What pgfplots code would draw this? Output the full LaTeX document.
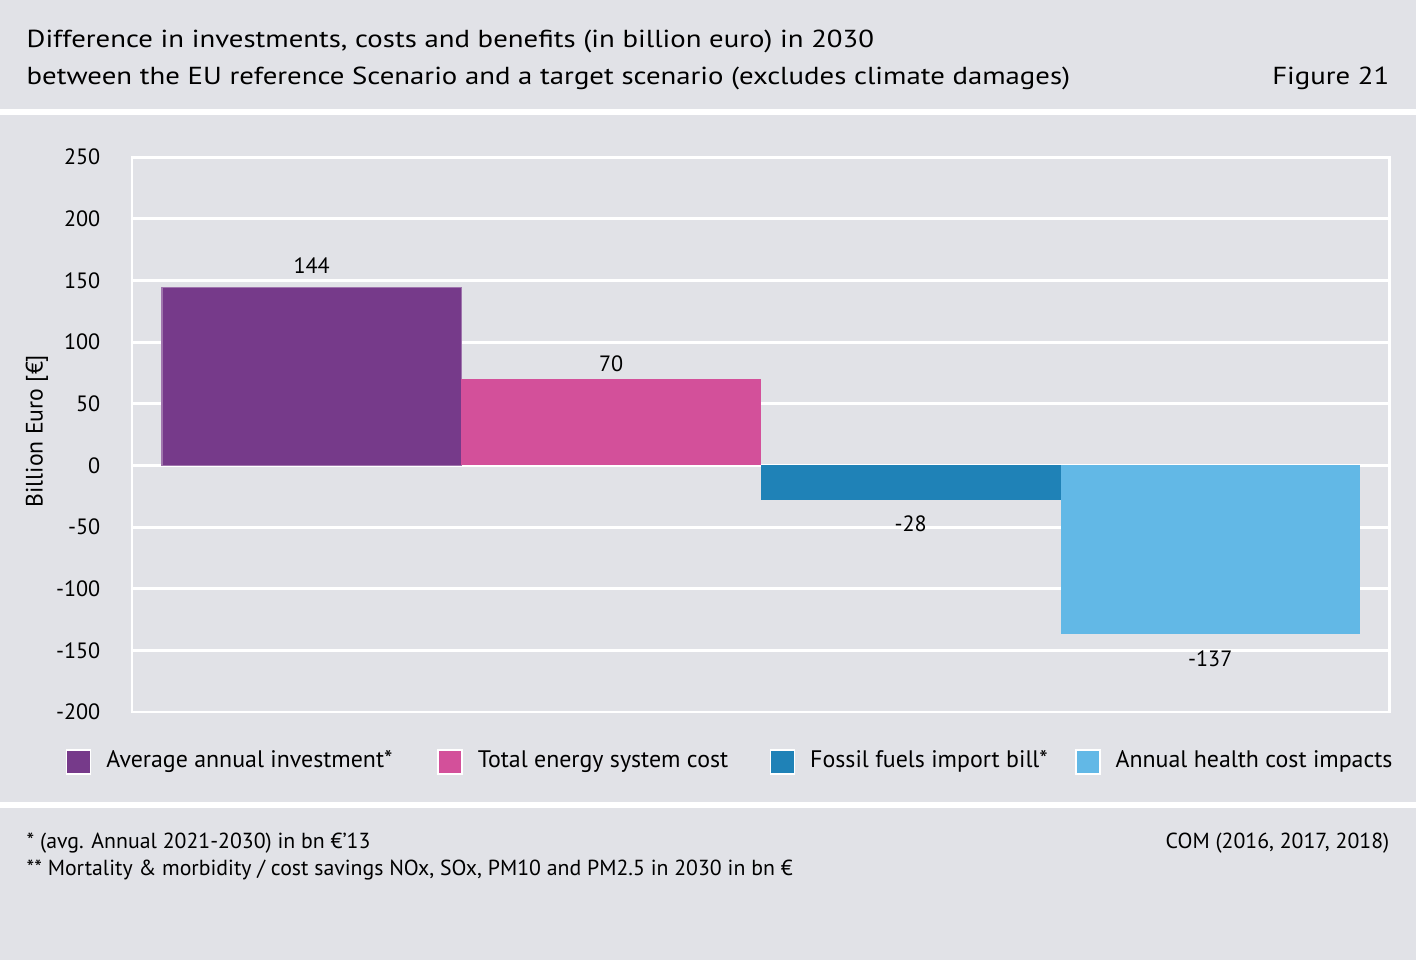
\documentclass[border=0pt]{standalone}
\usepackage{pgfplots}
\pgfplotsset{compat=1.18}
\usepackage{fontspec}
\setmainfont{PT Sans}
\newfontfamily\wide{PT Sans}[FakeStretch=1.17]
\definecolor{bg}{HTML}{E1E2E7}
\definecolor{cA}{HTML}{763A8A}
\definecolor{cB}{HTML}{D3509A}
\definecolor{cC}{HTML}{1F82B7}
\definecolor{cD}{HTML}{62B8E6}
\newcommand{\fsT}{\wide\fontsize{7pt}{8pt}\selectfont}
\newcommand{\fsL}{\fontsize{6.8pt}{8pt}\selectfont}
\newcommand{\fsK}{\fontsize{6.3pt}{7pt}\selectfont}
\newcommand{\fsY}{\fontsize{6.75pt}{7pt}\selectfont}
\newcommand{\fsF}{\fontsize{6.2pt}{7pt}\selectfont}
\begin{document}
\begin{tikzpicture}[x=1cm,y=1cm]
\fill[bg] (0,0) rectangle (14.16,9.6);
\fill[white] (0,8.45) rectangle (14.16,8.51);
\fill[white] (0,1.52) rectangle (14.16,1.58);
\node[anchor=base west, inner sep=0pt, font=\fsT] at (0.26,9.13) {Difference in investments, costs and benefits (in billion euro) in 2030};
\node[anchor=base west, inner sep=0pt, font=\fsT] at (0.26,8.76) {between the EU reference Scenario and a target scenario (excludes climate damages)};
\node[anchor=base east, inner sep=0pt, font=\fsT] at (13.90,8.76) {Figure 21};
\node[anchor=base west, inner sep=0pt, font=\fsF] at (0.26,1.12) {* (avg. Annual 2021-2030) in bn €'13};
\node[anchor=base west, inner sep=0pt, font=\fsF] at (0.26,0.85) {** Mortality \& morbidity / cost savings NOx, SOx, PM10 and PM2.5 in 2030 in bn €};
\node[anchor=base east, inner sep=0pt, font=\fsF] at (13.90,1.12) {COM (2016, 2017, 2018)};
\begin{axis}[
  at={(1.32cm,2.48cm)}, anchor=south west,
  scale only axis, width=12.58cm, height=5.55cm,
  xmin=-0.6, xmax=3.6, ymin=-200, ymax=250,
  ytick={-200,-150,...,250},
  xtick=\empty,
  axis line style={white, line width=0.85pt},
  ymajorgrids, grid style={white, line width=0.85pt},
  major tick length=0pt,
  /pgf/number format/assume math mode=true,
  yticklabel style={font=\fsK, anchor=east, inner sep=0pt, xshift=-3.1mm},
  ylabel={Billion Euro [€]},
  every axis y label/.style={at={(axis description cs:0,0.5)}, rotate=90, anchor=center, yshift=9.5mm, xshift=0.35mm, font=\fsY, inner sep=0pt},
  ybar, bar width=1, bar shift=0pt,
  nodes near coords,
  every node near coord/.append style={font=\fsK, black, inner sep=0pt},
  legend columns=4,
  legend style={draw=none, fill=none, inner sep=0pt, outer sep=0pt,
    anchor=west, at={(-0.05246,-0.0901)}, font=\fsL,
    nodes={inner sep=0pt},
    /tikz/every even column/.append style={column sep=3.5mm},
    /tikz/every odd column/.append style={column sep=1.5mm}},
  legend image code/.code={\draw[#1, draw=white, line width=0.4pt] (0cm,-1.2mm) rectangle (2.4mm,1.2mm);},
]
\addplot[fill=cA, draw=cA!70!white, nodes near coords style={yshift=1.4mm}] coordinates {(0,144)};
\addplot[fill=cB, draw=none, nodes near coords style={yshift=0.7mm}] coordinates {(1,70)};
\addplot[fill=cC, draw=none, nodes near coords style={yshift=-1.5mm}] coordinates {(2,-28)};
\addplot[fill=cD, draw=none, nodes near coords style={yshift=-1.6mm}] coordinates {(3,-137)};
\legend{\makebox[2.96cm][l]{Average annual investment*}, \makebox[2.57cm][l]{Total energy system cost}, \makebox[2.30cm][l]{Fossil fuels import bill*}, \makebox[2.77cm][l]{Annual health cost impacts}}
\end{axis}
\pgfresetboundingbox
\path (0,0) rectangle (14.16,9.6);
\end{tikzpicture}
\end{document}
